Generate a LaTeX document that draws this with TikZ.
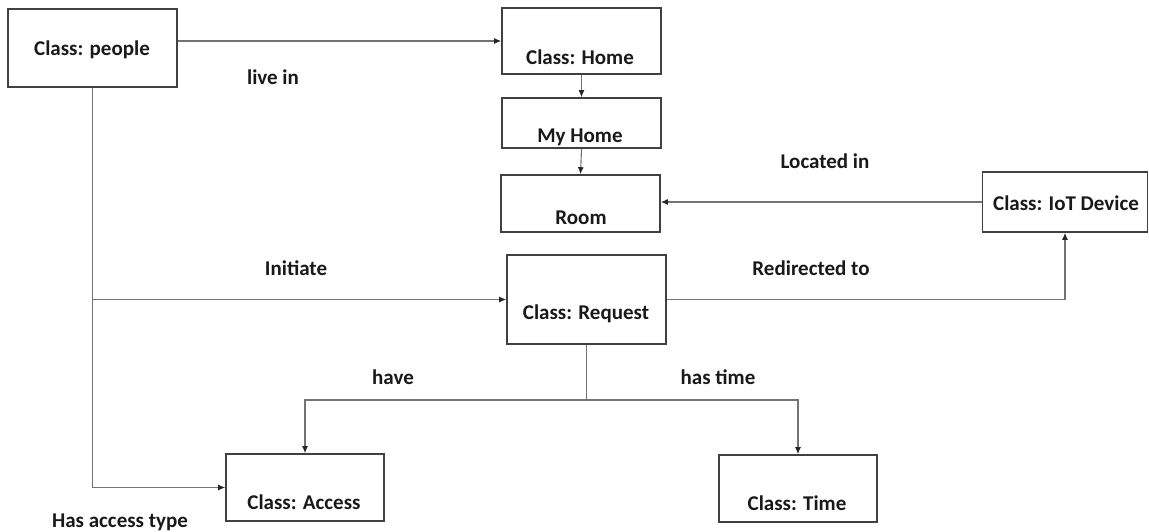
\documentclass[tikz,border=0pt]{standalone}
\usepackage{fontspec}
\setmainfont{Carlito}
\usetikzlibrary{arrows.meta}
\begin{document}
\begin{tikzpicture}[x=1pt,y=-1pt,
  box/.style={draw=black!75, line width=1.6pt, fill=white, inner sep=0pt},
  txt/.style={font=\bfseries\fontsize{21}{24}\selectfont, text=black!90, inner sep=0pt},
  link/.style={draw=black!55, line width=1.1pt},
  arr/.style={link, -{Latex[length=7pt,width=6pt,color=black!85]}}]
\useasboundingbox (0,0) rectangle (1149,532);

% class boxes
\node[box, minimum width=169pt, minimum height=78pt] (people)  at (92.5,48) {};
\node[box, minimum width=159pt, minimum height=66pt] (home)    at (581.5,41) {};
\node[box, minimum width=159pt, minimum height=50pt] (myhome)  at (581.5,123) {};
\node[box, minimum width=159pt, minimum height=57pt] (room)    at (580.5,203.5) {};
\node[box, minimum width=165pt, minimum height=60pt] (iot)     at (1065,202) {};
\node[box, minimum width=159pt, minimum height=89pt] (request) at (586.5,299.5) {};
\node[box, minimum width=158pt, minimum height=67pt] (access)  at (305,487.5) {};
\node[box, minimum width=158pt, minimum height=67pt] (time)    at (798,488.5) {};

% box captions
\node[txt] (tpeople)  at (92,50)   {Class: people};
\node[txt] (thome)    at (580,57)  {Class: Home};
\node[txt] (tmyhome)  at (580,137) {My Home};
\node[txt] (troom)    at (581,218) {Room};
\node[txt] (tiot)     at (1066,203) {Class: IoT Device};
\node[txt] (trequest) at (586,314) {Class: Request};
\node[txt] (taccess)  at (304,502) {Class: Access};
\node[txt] (ttime)    at (797,503) {Class: Time};

% relations
\draw[arr] (people.east |- home.west) -- (home.west);
\draw[arr] (home.south) -- (myhome.north);
\draw[arr] (myhome.south) -- (room.north);
\draw[arr] (iot.west) -- (iot.west -| room.east);
\draw[arr] (people.south) |- (access.west);
\coordinate (branch) at (people.south |- request.west);
\draw[arr] (branch) -- (request.west);
\draw[arr] (request.east) -| (iot.south);
\coordinate (fork) at (request.south |- 0,400);
\draw[link] (request.south) -- (fork);
\draw[arr] (fork) -| (access.north);
\draw[arr] (fork) -| (time.north);

% relation labels
\node[txt] (lliving)   at (273,77)  {live in};
\node[txt] (llocated)  at (825,161) {Located in};
\node[txt] (linit)     at (296,268) {Initiate};
\node[txt] (lredir)    at (811,268) {Redirected to};
\node[txt] (lhave)     at (393,377) {have};
\node[txt] (lhastime)  at (718,377) {has time};
\node[txt] (laccess)   at (120,522) {Has access type};
\end{tikzpicture}
\end{document}
